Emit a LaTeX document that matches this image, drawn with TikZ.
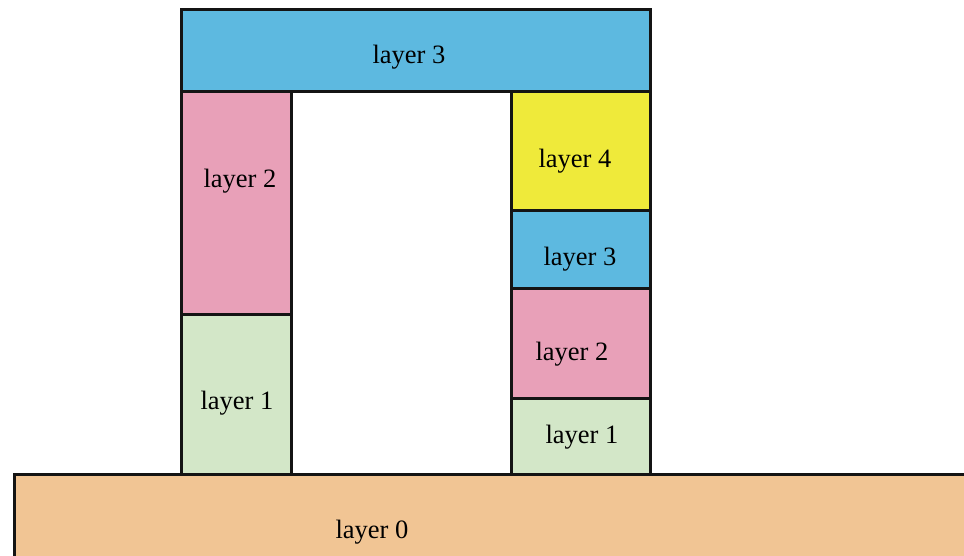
\documentclass[tikz,border=0pt]{standalone}
\usepackage{fontspec}
\setmainfont{Liberation Serif}
\definecolor{cblue}{HTML}{5DB9E0}
\definecolor{cpink}{HTML}{E8A0B8}
\definecolor{cgreen}{HTML}{D3E7C8}
\definecolor{cyellow}{HTML}{EFEA3A}
\definecolor{corange}{HTML}{F1C594}
\begin{document}
\begin{tikzpicture}[x=1pt,y=-1pt,
  slab/.style={draw=black!92,line width=3pt,line join=miter},
  lbl/.style={font=\fontsize{26.5}{30}\selectfont,text=black,inner sep=0pt}]
\useasboundingbox (0,0) rectangle (964,556);
\clip (0,0) rectangle (964,556);
% substrate
\filldraw[slab,fill=corange] (14,474) rectangle (975,570);
% left pillar
\filldraw[slab,fill=cgreen] (181,314) rectangle (291,474);
\filldraw[slab,fill=cpink] (181,92) rectangle (291,314);
% right stack
\filldraw[slab,fill=cgreen] (511,398) rectangle (650,474);
\filldraw[slab,fill=cpink] (511,288) rectangle (650,398);
\filldraw[slab,fill=cblue] (511,211) rectangle (650,288);
\filldraw[slab,fill=cyellow] (511,92) rectangle (650,211);
% bridge on top
\filldraw[slab,fill=cblue] (181,10) rectangle (650,92);
% labels
\node[lbl] (l0) at (372,532) {layer 0};
\node[lbl] (l1a) at (237,403) {layer 1};
\node[lbl] (l2a) at (240,181) {layer 2};
\node[lbl] (l3top) at (409,57) {layer 3};
\node[lbl] (l1b) at (582,437) {layer 1};
\node[lbl] (l2b) at (572,354) {layer 2};
\node[lbl] (l3b) at (580,259) {layer 3};
\node[lbl] (l4b) at (575,161) {layer 4};
\end{tikzpicture}
\end{document}
